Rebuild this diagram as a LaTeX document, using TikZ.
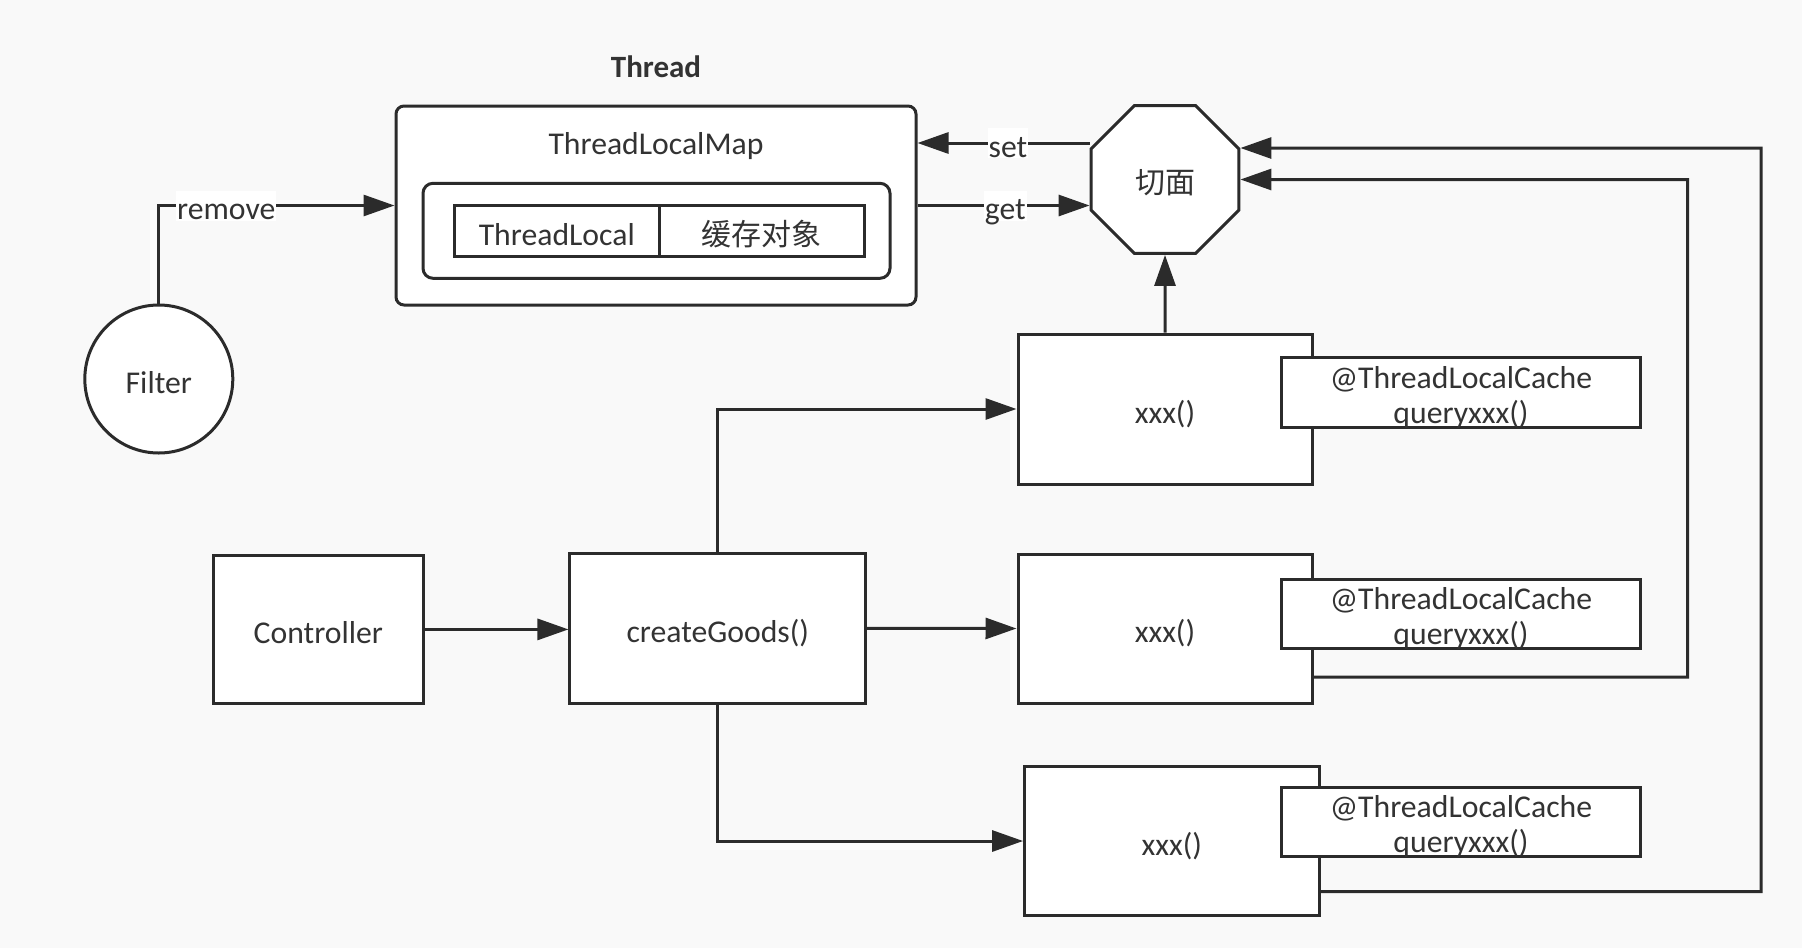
\documentclass[tikz,border=0pt]{standalone}
\usepackage{fontspec}
\setmainfont{Carlito}
\newfontfamily\cjk{Noto Sans CJK SC}
\usetikzlibrary{arrows.meta,shapes.geometric,calc}
\definecolor{bgc}{HTML}{F9F9F9}
\definecolor{ln}{HTML}{2B2B2B}
\definecolor{tx}{HTML}{333333}
\begin{document}
\begin{tikzpicture}[x=1pt,y=-1pt,
  txt/.style={text=tx,font=\fontsize{31.7}{35}\selectfont},
  box/.style={txt,draw=ln,line width=3pt,fill=white,inner sep=0pt,rectangle,text height=28pt,text depth=0pt},
  conn/.style={draw=ln,line width=3pt,-{Triangle[length=31pt,width=21pt]}},
  lbl/.style={txt,fill=white,inner sep=1pt,text height=28pt,text depth=0pt}
]
\fill[bgc] (0,0) rectangle (1802,948);
\useasboundingbox (0,0) rectangle (1802,948);

% Thread title
\node[txt,font=\bfseries\fontsize{31}{35}\selectfont] (thread) at (656,66.7) {Thread};

% ThreadLocalMap container
\node[box,rounded corners=8pt,minimum width=520pt,minimum height=199pt] (tlm) at (656,205.5) {};
\node[txt] (tlmlabel) at (656,146.5) {ThreadLocalMap};
\node[box,rounded corners=10pt,minimum width=467pt,minimum height=95pt] (inner) at (656.5,230.8) {};
\node[box,minimum width=204.4pt,minimum height=51pt] (tl) at (556.8,231.2) {ThreadLocal};
\node[box,minimum width=205pt,minimum height=51pt,font=\cjk\fontsize{30}{35}\selectfont] (cache) at (761.5,231.2) {缓存对象};

% Filter
\node[box,circle,minimum size=148pt] (filter) at (158.8,379) {Filter};

% aspect octagon
\node[box,regular polygon,regular polygon sides=8,minimum size=160pt,font=\cjk\fontsize{30}{35}\selectfont] (oct) at (1165,179.5) {切面};

% Controller and createGoods
\node[box,minimum width=210.6pt,minimum height=147.3pt] (ctrl) at (318.3,629.4) {Controller};
\node[box,minimum width=295.7pt,minimum height=150pt] (cg) at (717.8,628.3) {createGoods()};

% xxx() boxes
\node[box,minimum width=294pt,minimum height=150pt] (x1) at (1165,409) {xxx()};
\node[box,minimum width=294pt,minimum height=149pt] (x2) at (1165,628.5) {xxx()};
\node[box,minimum width=294.4pt,minimum height=149.4pt] (x3) at (1171.8,841) {xxx()};

% annotation boxes
\node[box,minimum width=359pt,minimum height=70pt] (a1) at (1461,392.7) {};
\node[txt,align=center,inner sep=0pt] (a1t) at ($(a1.center)+(0,4.8)$) {@ThreadLocalCache\\queryxxx()};
\node[box,minimum width=359pt,minimum height=69pt] (a2) at (1461,613.5) {};
\node[txt,align=center,inner sep=0pt] (a2t) at ($(a2.center)+(0,4.8)$) {@ThreadLocalCache\\queryxxx()};
\node[box,minimum width=359pt,minimum height=69.4pt] (a3) at (1461,822) {};
\node[txt,align=center,inner sep=0pt] (a3t) at ($(a3.center)+(0,4.8)$) {@ThreadLocalCache\\queryxxx()};

% connectors
\draw[conn] (filter.north) |- (tlm.west) node[lbl,pos=0.643] {remove};
\draw[conn] ([yshift=36.5pt]oct.west) -- ([yshift=36.5pt]oct.west -| tlm.east) node[lbl,pos=0.474] {set};
\draw[conn] (tlm.east) -- (tlm.east -| oct.west) node[lbl,pos=0.51] {get};
\draw[conn] (x1.north) -- (oct.south);
\draw[conn] (ctrl.east) -- (ctrl.east -| cg.west);
\draw[conn] (cg.east) -- (x2.west);
\draw[conn] (cg.north) |- (x1.west);
\draw[conn] (cg.south) |- (x3.west);

\coordinate (r2) at (1687.6,179.5);
\coordinate (r3) at (1761,148);
\draw[conn] ([yshift=-48.5pt]x2.east) -| (r2) -- (oct.east);
\draw[conn] ([yshift=-50.7pt]x3.east) -| (r3) -- ([yshift=31.5pt]oct.east);
\end{tikzpicture}
\end{document}
